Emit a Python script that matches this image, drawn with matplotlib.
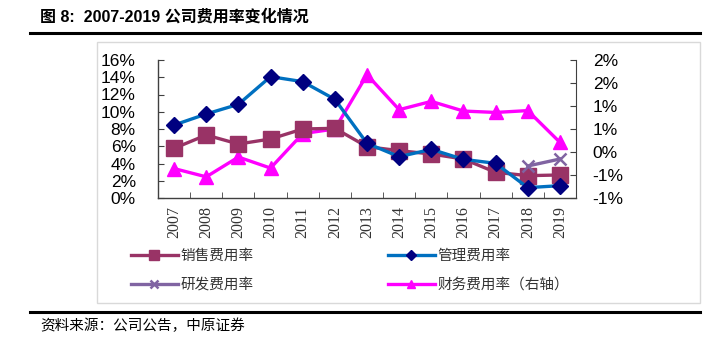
import matplotlib.pyplot as plt
from matplotlib.lines import Line2D
from matplotlib.ticker import FixedLocator

plt.rcParams["font.family"] = ["Liberation Sans", "Noto Sans CJK SC", "DejaVu Sans"]

years = ["2007", "2008", "2009", "2010", "2011", "2012", "2013",
         "2014", "2015", "2016", "2017", "2018", "2019"]
sales_rate = [5.76, 7.30, 6.26, 6.84, 8.00, 8.08, 5.95, 5.49, 5.10, 4.52, 2.98, 2.59, 2.67]
admin_rate = [8.46, 9.74, 10.86, 14.07, 13.49, 11.44, 6.34, 4.79, 5.64, 4.48, 4.02, 1.20, 1.43]
rd_rate = [None] * 11 + [3.71, 4.52]
fin_rate = [-0.36, -0.54, -0.11, -0.35, 0.40, 0.50, 1.68, 0.92, 1.10, 0.89, 0.86, 0.90, 0.21]

left_ticks = [0, 2, 4, 6, 8, 10, 12, 14, 16]
right_ticks = [-1.0, -0.5, 0.0, 0.5, 1.0, 1.5, 2.0]
right_labels = ["-1%", "-1%", "0%", "1%", "1%", "2%", "2%"]

W, H = 717, 340
fig = plt.figure(figsize=(W / 100, H / 100), dpi=100)
fig.patch.set_facecolor("white")


def px(x0, y0, x1, y1):
    return [x0 / W, 1 - y1 / H, (x1 - x0) / W, (y1 - y0) / H]


# title and rules
fig.text(40 / W, 1 - 17 / H, "图 8:  2007-2019 公司费用率变化情况", fontsize=11.5,
         fontweight="bold", va="center", ha="left",
         family=["Liberation Sans", "Noto Sans CJK SC"])
fig.add_artist(Line2D([30 / W, 700 / W], [1 - 33 / H] * 2, color="black", lw=2.2))
fig.add_artist(Line2D([30 / W, 700 / W], [1 - 312 / H] * 2, color="black", lw=2.2))
fig.text(40 / W, 1 - 326 / H, "资料来源：公司公告，中原证券", fontsize=10.5,
         va="center", ha="left", family=["Noto Sans CJK SC"])

# chart box
box = plt.Rectangle((97 / W, 1 - 303 / H), (700 - 97) / W, (303 - 42) / H,
                    transform=fig.transFigure, fill=False, ec="#d9d9d9", lw=1)
fig.add_artist(box)

ax = fig.add_axes(px(158, 60, 576, 198))
x = list(range(len(years)))

l_sales, = ax.plot(x, sales_rate, color="#993366", lw=2.4, marker="s", ms=11,
                   mec="#993366", mfc="#993366", zorder=3)
l_admin, = ax.plot(x, admin_rate, color="#0070C0", lw=2.4, marker="D", ms=8.5,
                   mec="#000080", mfc="#000080", zorder=4)
l_rd, = ax.plot(x, [float("nan") if v is None else v for v in rd_rate],
                color="#8064A2", lw=2.4, marker="x", ms=9, mew=1.8, zorder=5)

ax.set_xlim(-0.5, len(years) - 0.5)
ax.set_ylim(0, 16)
ax.set_yticks(left_ticks)
ax.set_yticklabels([f"{v}%" for v in left_ticks], fontsize=12.5)
ax.set_xticks(x)
ax.set_xticklabels(years, rotation=90, fontsize=11.5, family="Liberation Serif",
                   color="#333333")
ax.xaxis.set_minor_locator(FixedLocator([i + 0.5 for i in range(-1, len(years))]))
ax.tick_params(axis="x", which="major", length=0, pad=6)
ax.tick_params(axis="x", which="minor", length=4, direction="in", color="#404040")
ax.tick_params(axis="y", length=4, direction="in", color="#404040", pad=16)
for side in ["top", "right"]:
    ax.spines[side].set_visible(False)
for side in ["left", "bottom"]:
    ax.spines[side].set_color("#404040")
    ax.spines[side].set_linewidth(1)

ax2 = ax.twinx()
l_fin, = ax2.plot(x, fin_rate, color="#FF00FF", lw=2.4, marker="^", ms=10.5,
                  mec="#FF00FF", mfc="#FF00FF", zorder=2)
ax2.set_ylim(-1, 2)
ax2.set_yticks(right_ticks)
ax2.set_yticklabels(right_labels, fontsize=12.5)
ax2.tick_params(axis="y", length=4, direction="in", color="#404040", pad=12)
for side in ["top", "left", "bottom"]:
    ax2.spines[side].set_visible(False)
ax2.spines["right"].set_color("#404040")
ax.set_zorder(ax2.get_zorder() + 1)
ax.patch.set_visible(False)

# legend is filled row by row in the reference: sales, admin / rd, fin
handles = [l_sales, l_rd, l_admin, l_fin]
labels = ["销售费用率", "研发费用率", "管理费用率", "财务费用率（右轴）"]
leg = fig.legend(handles, labels, ncol=2, loc="upper left",
                 bbox_to_anchor=(118 / W, 1 - 236 / H), frameon=False,
                 prop={"family": "Noto Sans CJK SC", "size": 10.5},
                 handlelength=3.2, handletextpad=0.2, columnspacing=9.2,
                 labelspacing=1.0, markerscale=0.6)
for txt in leg.get_texts():
    txt.set_color("#333333")

fig.savefig("out.png", dpi=100)
